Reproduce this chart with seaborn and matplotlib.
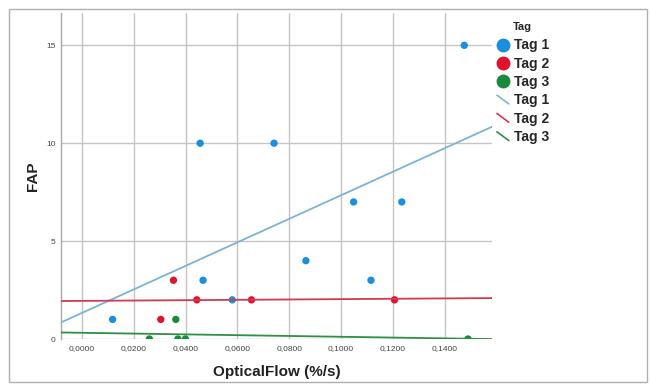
import matplotlib
matplotlib.use("Agg")
import matplotlib.pyplot as plt
from matplotlib.lines import Line2D
from matplotlib.legend_handler import HandlerBase
from matplotlib.patches import Rectangle
from matplotlib.ticker import FuncFormatter
import seaborn as sns
import pandas as pd

# ---- data ----
tag_names = ["Tag 1", "Tag 2", "Tag 3"]
tag1_x = [0.0118, 0.0456, 0.0467, 0.0580, 0.0741, 0.0864, 0.1048, 0.1115, 0.1234, 0.1475]
tag1_y = [1, 10, 3, 2, 10, 4, 7, 3, 7, 15]
tag2_x = [0.0304, 0.0353, 0.0443, 0.0654, 0.1206]
tag2_y = [1, 3, 2, 2, 2]
tag3_x = [0.0260, 0.0362, 0.0370, 0.0399, 0.1489]
tag3_y = [0, 1, 0, 0, 0]
x_ticks = [0.0, 0.02, 0.04, 0.06, 0.08, 0.10, 0.12, 0.14]
y_ticks = [0, 5, 10, 15]

point_colors = ["#1c8fdc", "#e0122e", "#188a3a"]
line_colors = ["#7ab4d0", "#d23a50", "#2f8f45"]

df = pd.DataFrame({
    "OpticalFlow": tag1_x + tag2_x + tag3_x,
    "FAP": tag1_y + tag2_y + tag3_y,
    "Tag": [tag_names[0]] * len(tag1_x) + [tag_names[1]] * len(tag2_x) + [tag_names[2]] * len(tag3_x),
})

sns.set_theme(style="white")
plt.rcParams["font.family"] = ["Liberation Sans", "DejaVu Sans"]

fig = plt.figure(figsize=(6.5, 3.84), dpi=100)
ax = fig.add_axes([61 / 650, 1 - 339 / 384, (492 - 61) / 650, (339 - 13) / 384])

xlim = (-0.0081, 0.1582)
ylim = (0, 16.65)
ax.set_xlim(*xlim)
ax.set_ylim(*ylim)

sns.scatterplot(data=df, x="OpticalFlow", y="FAP", hue="Tag", hue_order=tag_names,
                palette=point_colors, s=28, edgecolor="none", legend=False, ax=ax, zorder=3)

for name, lc in zip(tag_names, line_colors):
    sub = df[df["Tag"] == name]
    ax.set_xlim(*xlim)
    sns.regplot(data=sub, x="OpticalFlow", y="FAP", scatter=False, ci=None, truncate=False,
                color=lc, line_kws={"linewidth": 1.3, "zorder": 4}, ax=ax)

ax.set_xlim(*xlim)
ax.set_ylim(*ylim)
ax.set_xticks(x_ticks)
ax.set_yticks(y_ticks)
ax.xaxis.set_major_formatter(FuncFormatter(lambda v, p: f"{v:.4f}".replace(".", ",")))
ax.tick_params(axis="both", length=0, labelsize=6, colors="#444444", pad=4)
ax.grid(True, color="#cbc3c3", linewidth=1.0)
ax.set_axisbelow(True)
for s in ["top", "right", "bottom"]:
    ax.spines[s].set_visible(False)
ax.spines["left"].set_color("#a8a8a8")
ax.spines["left"].set_linewidth(1.0)

ax.set_xlabel("OpticalFlow (%/s)", fontsize=11, fontweight="bold", color="#222222", labelpad=10)
ax.set_ylabel("FAP", fontsize=11, fontweight="bold", color="#222222")
ax.yaxis.set_label_coords(-0.048, 0.5)


class DiagonalHandler(HandlerBase):
    def create_artists(self, legend, orig_handle, xdescent, ydescent, width, height, fontsize, trans):
        line = Line2D([-xdescent + width * 0.1, -xdescent + width * 0.95],
                      [-ydescent + height * 0.95, -ydescent + height * 0.05],
                      color=orig_handle.get_color(), linewidth=1.2, transform=trans)
        return [line]


handles = []
labels = []
for name, pc in zip(tag_names, point_colors):
    handles.append(Line2D([], [], marker="o", linestyle="none", markersize=9,
                          markerfacecolor=pc, markeredgecolor=pc))
    labels.append(name)
diag = []
for name, lc in zip(tag_names, line_colors):
    h = Line2D([], [], color=lc)
    handles.append(h)
    diag.append(h)
    labels.append(name)

leg = fig.legend(handles, labels, title="Tag", loc="upper left",
                 bbox_to_anchor=(490 / 650, 1 - 16 / 384), frameon=False,
                 prop={"weight": "bold", "size": 10}, handlelength=1.0, handletextpad=0.3,
                 labelspacing=0.31, borderaxespad=0,
                 handler_map={h: DiagonalHandler() for h in diag})
leg.get_title().set_fontweight("bold")
leg.get_title().set_fontsize(8)
leg._legend_box.sep = 5.0

fig.patches.append(Rectangle((9 / 650, 1 - 382 / 384), (647 - 9) / 650, (382 - 9) / 384,
                             transform=fig.transFigure, fill=False, edgecolor="#b0b0b0",
                             linewidth=1.0, zorder=0))

fig.savefig("out.png", dpi=100, facecolor="white")
